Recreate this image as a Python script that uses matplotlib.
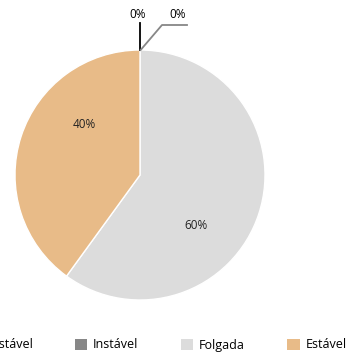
import numpy as np
import matplotlib.pyplot as plt
from matplotlib.patches import Patch

plt.rcParams['font.family'] = ['Open Sans', 'DejaVu Sans']

categories = ['Muito Instável', 'Instável', 'Folgada', 'Estável']
values = [0, 0, 60, 40]
colors = ['#000000', '#878787', '#dcdcdc', '#e8bb88']

W, H = 352, 356
cx, cy, R = 140, 175, 125  # pie centre / radius in pixels

fig = plt.figure(figsize=(W / 100, H / 100), dpi=100)
ax = fig.add_axes([0, 0, 1, 1])

ax.pie(values, colors=colors, startangle=90, counterclock=False,
       wedgeprops=dict(edgecolor='white', linewidth=1))

# labels for the non-zero slices, sitting a bit clockwise of mid-angle
total = sum(values)
start = 90.0
for v in values:
    sweep = 360.0 * v / total
    if v > 0:
        mid = np.deg2rad(start - sweep / 2 - 24)
        ax.text(0.6 * np.cos(mid), 0.6 * np.sin(mid), f'{v:.0f}%',
                ha='center', va='center', fontsize=8.5, color='#222222')
    start -= sweep

# leader lines for the zero slices
ax.plot([0, 0], [1, 1.22], color='black', lw=1.3)
ax.text(-0.016, 1.28, f'{values[0]}%', ha='center', va='center', fontsize=8.5)
ax.plot([0.005, 0.176, 0.376], [1, 1.2, 1.2], color='#878787', lw=1.3)
ax.text(0.30, 1.28, f'{values[1]}%', ha='center', va='center', fontsize=8.5)

ax.set_xlim(-cx / R, (W - cx) / R)
ax.set_ylim(-(H - cy) / R, cy / R)
ax.set_aspect('auto')
ax.axis('off')

handles = [Patch(facecolor=c, edgecolor='none') for c in colors]
fig.legend(handles, categories, loc='center', ncol=4, frameon=False,
           bbox_to_anchor=(139 / W, 11 / H), fontsize=9,
           handlelength=1.0, handleheight=1.0, handletextpad=0.45,
           columnspacing=3.4)

fig.savefig('out.png', dpi=100)
